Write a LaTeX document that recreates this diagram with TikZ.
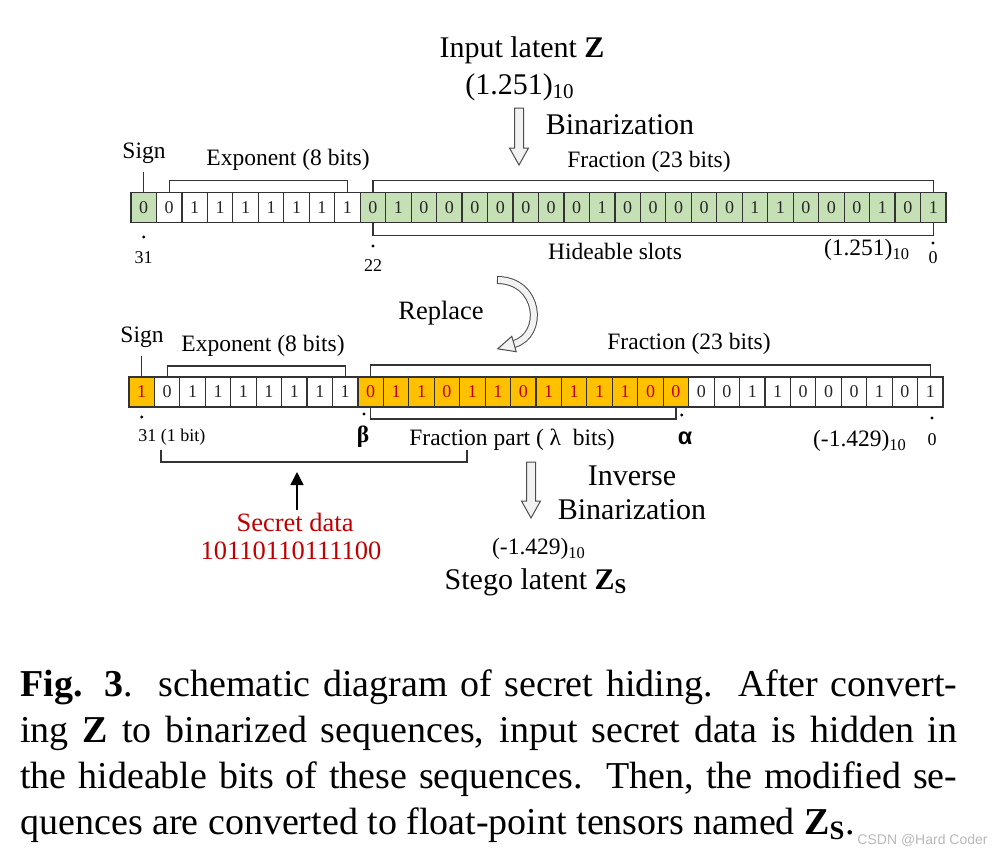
\documentclass[tikz,border=0pt]{standalone}
\usepackage{fontspec}
\setmainfont{Liberation Serif}
\setsansfont{Liberation Sans}
\usetikzlibrary{
    positioning,
    arrows.meta
    }
\definecolor{cellgreen}{HTML}{C5E0B4}
\definecolor{cellorange}{HTML}{FFC000}
\definecolor{secretred}{HTML}{C00000}

\begin{document}
\begin{tikzpicture}[x=0.5pt, y=-0.5pt]
\tikzset{bit/.style =
        {
            rectangle,
            draw=black!80,
            line width=0.6pt,
            minimum width=12.73pt,
            minimum height=15pt,
            inner sep=0pt,
            outer sep=0pt,
            font=\fontsize{9}{9}\selectfont,
            text=black!85
        }
}

\tikzset{plain bit/.style = {bit, fill=white}}
\tikzset{green bit/.style = {bit, fill=cellgreen}}
\tikzset{hidden bit/.style = {bit, fill=cellorange, text=secretred}}

\tikzset{lbl/.style =
        {
            inner sep=1pt,
            font=\fontsize{11.75}{13}\selectfont
        }
}
\tikzset{big lbl/.style = {lbl, font=\fontsize{15}{17}\selectfont}}
\tikzset{small lbl/.style = {lbl, font=\fontsize{9}{10}\selectfont}}
\tikzset{red lbl/.style = {lbl, text=secretred, font=\fontsize{13.25}{15}\selectfont}}
\tikzset{caption/.style =
        {
            anchor=base west,
            inner sep=0pt,
            font=\fontsize{19}{22}\selectfont
        }
}

\tikzset{bracket/.style = {line width=0.6pt, black!80}}
\tikzset{dot/.style = {circle, fill=black, inner sep=0pt, minimum size=1.6pt}}
\tikzset{push/.style = {line width=0.7pt, -{Triangle[length=6.5pt, width=6.5pt]}, shorten >=5pt}}

\tikzset{hollow/.style =
        {
            draw=gray!60!black,
            line width=0.5pt,
            fill=gray!10,
            line join=miter
        }
}
\tikzset{curl/.style =
        {
            draw=gray!60!black,
            line width=0.5pt,
            double=gray!10,
            double distance=3pt
        }
}
\tikzset{hollow down/.pic = {
            \draw[hollow] (-4.5,0) -- (-4.5,#1-17) -- (-9.5,#1-17) -- (0,#1) -- (9.5,#1-17) -- (4.5,#1-17) -- (4.5,0) -- cycle;
        }
}

\useasboundingbox[fill=white] (0,0) rectangle (1000,853);

% binarized input
\node[big lbl] (input) at (522,50) {Input latent \textbf{Z}};
\node[big lbl] (zval) at (520,87) {(1.251)\textsubscript{10}};
\pic at (519,108) {hollow down=57};
\node[big lbl] (bin) at (620,125) {Binarization};

\node[green bit] (a-0) at (143.7,207.5) {0};
\foreach \b [count=\i from 1] in {0,1,1,1,1,1,1,1}
\node[plain bit] (a-\i) at ({143.7+25.47*\i},207.5) {\b};
\foreach \b [count=\i from 9] in {0,1,0,0,0,0,0,0,0,1,0,0,0,0,0,1,1,0,0,0,1,0,1}
\node[green bit] (a-\i) at ({143.7+25.47*\i},207.5) {\b};

\node[lbl] (sign-a) at (144,153) {Sign};
\draw[bracket, shorten >=3pt] (a-0.north) -- (a-0.north |- sign-a.south);
\node[lbl] (exp-a) at (288,160) {Exponent (8 bits)};
\draw[bracket] (a-1.north) -- ++(0,-12) -| (a-8.north);
\node[lbl] (frac-a) at (649,162) {Fraction (23 bits)};
\draw[bracket] (a-9.north) -- ++(0,-12) -| (a-31.north);
\draw[bracket] (a-9.south) -- ++(0,13) -| (a-31.south);
\node[lbl] (slots) at (615,251) {Hideable slots};
\node[lbl] (zval-a) at (867,250) {(1.251)\textsubscript{10}};

\foreach \n / \x / \yd / \yn in
    {31/143.7/237/258,
        22/373/246/266,
        0/933/243/258}
{
    \node[dot] (dot-a\n) at (\x,\yd) {};
    \node[small lbl] (pos-a\n) at (\x,\yn) {\n};
}

% replace
\node[lbl, font=\fontsize{13.25}{15}\selectfont] (replace) at (441,313) {Replace};
\coordinate (rep-tail) at (497,280);
\coordinate (rep-head) at (514,344);
\draw[curl] (rep-tail) .. controls (540,280) and (545,335) .. (rep-head);
\draw[draw=gray!60!black, line width=0.5pt] (497,276) -- (497,284);
\draw[hollow] (511.8,336.3) -- (497.7,348.8) -- (516.2,351.7) -- cycle;

% stego sequence
\node[hidden bit] (b-0) at (141.7,392) {1};
\foreach \b [count=\i from 1] in {0,1,1,1,1,1,1,1}
\node[plain bit] (b-\i) at ({141.7+25.44*\i},392) {\b};
\foreach \b [count=\i from 9] in {0,1,1,0,1,1,0,1,1,1,1,0,0}
\node[hidden bit] (b-\i) at ({141.7+25.44*\i},392) {\b};
\foreach \b [count=\i from 22] in {0,0,1,1,0,0,0,1,0,1}
\node[plain bit] (b-\i) at ({141.7+25.44*\i},392) {\b};

\node[lbl] (sign-b) at (142,337) {Sign};
\draw[bracket, shorten >=3pt] (b-0.north) -- (b-0.north |- sign-b.south);
\node[lbl] (exp-b) at (263,346) {Exponent (8 bits)};
\draw[bracket] (b-1.north) -- ++(0,-11) -| (b-8.north);
\node[lbl] (frac-b) at (689,344) {Fraction (23 bits)};
\draw[bracket] (b-9.north) -- ++(0,-12) -| (b-31.north);
\draw[bracket] (b-9.south) -- ++(0,12) -| (b-21.south);

\node[dot] (dot-b31) at (141.7,417) {};
\node[small lbl, anchor=west] (pos-b31) at (136,437) {31 (1 bit)};
\node[dot] (dot-beta) at (364,414) {};
\node[lbl] (beta) at (363,437) {\textbf{β}};
\node[lbl] (part) at (512,440) {Fraction part ( λ \ bits)};
\node[dot] (dot-alpha) at (681.7,415) {};
\node[lbl] (alpha) at (685,438) {\sffamily\textbf{α}};
\node[lbl] (zval-b) at (860,441) {(-1.429)\textsubscript{10}};
\node[dot] (dot-b0) at (932,418) {};
\node[small lbl] (pos-b0) at (932,440) {0};

% secret data
\coordinate (sec-l) at (161,450);
\coordinate (sec-r) at (467,450);
\coordinate (sec-m) at (297,462);
\draw[bracket] (sec-l) -- ++(0,12) -| (sec-r);
\node[red lbl] (secret) at (295,522) {Secret data};
\node[red lbl] (secret-bits) at (291,551) {10110110111100};
\draw[push] (sec-m |- secret.north) -- (sec-m);

% inverse binarization
\pic at (531,462) {hollow down=56};
\node[big lbl, align=center] (inv) at (632,493) {Inverse\\Binarization};
\node[lbl] (zval-s) at (539,549) {(-1.429)\textsubscript{10}};
\node[big lbl] (stego) at (536,582) {Stego latent \textbf{Z}\textsubscript{\textbf{S}}};

% caption
\node[caption] (cap-1) at (20,696) {\makebox[468.5pt][s]{\textbf{Fig. 3}.\ \ schematic diagram of secret hiding.\ \ After convert-}};
\node[caption] (cap-2) at (20,742) {\makebox[468.5pt][s]{ing \textbf{Z} to binarized sequences, input secret data is hidden in}};
\node[caption] (cap-3) at (20,788) {\makebox[468.5pt][s]{the hideable bits of these sequences.\ \ Then, the modified se-}};
\node[caption] (cap-4) at (20,834) {quences are converted to float-point tensors named \textbf{Z}\textsubscript{\textbf{S}}.};
\node[anchor=east, inner sep=0pt, font=\sffamily\fontsize{7}{8}\selectfont, text=gray!55] (mark) at (988,840) {CSDN @Hard Coder};

\end{tikzpicture}
\end{document}
